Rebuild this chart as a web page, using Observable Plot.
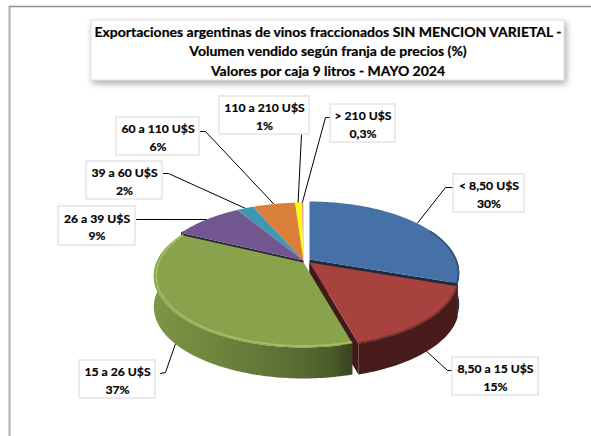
<!DOCTYPE html>
<html><head><meta charset="utf-8">
<style>html,body{margin:0;padding:0;background:#fff}svg{display:block}</style>
<script src="https://cdn.jsdelivr.net/npm/d3@7"></script>
<script src="https://cdn.jsdelivr.net/npm/@observablehq/plot@0.6"></script>
</head><body><div id="chart"></div>
<script>
const titleLines = ["Exportaciones argentinas de vinos fraccionados SIN MENCION VARIETAL -","Volumen vendido según franja de precios (%)","Valores por caja 9 litros - MAYO 2024"];
const categories = ["< 8,50 U$S","8,50 a 15 U$S","15 a 26 U$S","26 a 39 U$S","39 a 60 U$S","60 a 110 U$S","110 a 210 U$S","> 210 U$S"];
const shares = [30.3,15.4,36.6,9.1,2.2,5.5,0.8,0.3];
const shareLabels = ["30%","15%","37%","9%","2%","6%","1%","0,3%"];
const colors = ["#4571a7","#a8423f","#88a34c","#71568f","#4098b0","#d97f3b","#ffff00","#e6a6a4"];

// layout
const W = 591, H = 436, R = 147, RY = 68.9, K = 0.189, DEPTH = 31;
const centers = [[309,259],[309,262],[303,262],[303,260],[303,260],[303,260],[303,260],[303,260]];
const boxes = [[453,524,174,212],[452,538,357,395],[79,155,360,398],[58,135,206,245],[86,162,161,199],[116,199,117,155],[219,309,96,134],[330,395,104,142]];
const elbows = [[[452,187],[445,187]],[[452,370],[447,370]],[[160,373],[165,372]],[[136,219]],[[163,173],[168,173]],[[200,131],[205,131]],[[301,134]],[[330,117],[325,117]]];
const paintOrder = [7,6,5,4,3,0,1,2];

const pieArcs = d3.pie().sort(null).value(d => d)(shares);
function project(theta, i, r = 1, z = 0) {
  const u = Math.sin(theta) * r, v = -Math.cos(theta) * r, s = 1 / (1 - K * v);
  return {x: centers[i][0] + R * u * s, y: centers[i][1] + RY * v * s + z};
}
const step = Math.PI / 180;
function angles(a0, a1) {
  const n = Math.max(1, Math.ceil((a1 - a0) / step)), out = [];
  for (let j = 0; j <= n; j++) out.push(a0 + (a1 - a0) * j / n);
  return out;
}
function sideFactor(u) {
  if (u >= 0.25) return 0.42;
  return 0.5 + 0.42 * Math.pow(Math.min(1, (0.25 - u) / 1.25), 0.7);
}
function scaled(c, f) { const q = d3.rgb(c); return d3.rgb(q.r * f, q.g * f, q.b * f).formatHex(); }

const polys = [];
let pid = 0;
function addPoly(points, fill) { const id = pid++; for (const p of points) polys.push({id, x: p.x, y: p.y, fill}); }
for (const i of paintOrder) {
  const {startAngle: a0, endAngle: a1} = pieArcs[i], col = colors[i];
  // the cut wall that faces the viewer only
  const wallAngle = i === 1 ? a1 : i === 0 ? a1 : i === 3 ? a0 : null;
  if (wallAngle !== null) addPoly([project(wallAngle,i,0),project(wallAngle,i,1),project(wallAngle,i,1,DEPTH),project(wallAngle,i,0,DEPTH)], scaled(col,0.38));
  const as = angles(a0, a1);
  const front = as.filter(a => Math.cos(a) <= 0.25);
  if (front.length > 1) addPoly([...front.map(a => project(a,i)), ...front.slice().reverse().map(a => project(a,i,1,DEPTH))], `url(#side${i})`);
  addPoly([project(a0,i,0),...as.map(a => project(a,i))], col);
}
// bevel along the front rim of the top faces: lit on the green slice, shaded elsewhere
const rims = [];
pieArcs.forEach((arc,i) => {
  const lit = i === 2;
  for (const a of angles(arc.startAngle, arc.endAngle)) {
    if (!lit && Math.cos(a) > 0.45) continue;
    const p = project(a,i,lit ? 0.985 : 0.995);
    rims.push({id:i, x:p.x, y:p.y, stroke: lit ? "#a6c064" : scaled(colors[i],0.72)});
  }
});
// leaders: label -> elbow -> rim at the slice's mid angle
const leaders = [];
pieArcs.forEach((arc,i) => {
  const m = (arc.startAngle + arc.endAngle) / 2;
  const pts = [...elbows[i].map(([x,y]) => ({x,y})), project(m,i,1,Math.cos(m) < 0 ? DEPTH : 0)];
  pts.forEach(p => leaders.push({id:i, ...p}));
});
const labelRows = categories.map((c,i) => ({text:c+"\n"+shareLabels[i], x1:boxes[i][0], x2:boxes[i][1], y1:boxes[i][2], y2:boxes[i][3], x:(boxes[i][0]+boxes[i][1])/2, y:(boxes[i][2]+boxes[i][3])/2}));
const font = {fontFamily:"Lato", fontWeight:"bold", fill:"#000", stroke:"#000", strokeWidth:0.2};

// side shading gradients, horizontal across each slice's centre
function sideGradients() {
  const ns = "http://www.w3.org/2000/svg";
  const defs = document.createElementNS(ns, "defs");
  colors.forEach((col,i) => {
    const g = document.createElementNS(ns, "linearGradient");
    g.setAttribute("id", `side${i}`);
    g.setAttribute("gradientUnits", "userSpaceOnUse");
    g.setAttribute("x1", centers[i][0] - R * 1.05);
    g.setAttribute("x2", centers[i][0] + R * 1.05);
    g.setAttribute("y1", 0); g.setAttribute("y2", 0);
    d3.range(0, 21).forEach(k => {
      const t = k / 20, stop = document.createElementNS(ns, "stop");
      stop.setAttribute("offset", t);
      stop.setAttribute("stop-color", scaled(col, sideFactor(-1 + 2 * t)));
      g.appendChild(stop);
    });
    defs.appendChild(g);
  });
  return defs;
}

const plot = Plot.plot({
  width:W, height:H, margin:0,
  x:{domain:[0,W], range:[0,W], axis:null},
  y:{domain:[0,H], range:[0,H], axis:null},
  color:{type:"identity"},
  style:{background:"#fff"},
  marks:[
    sideGradients,
    Plot.ruleX([9],{y1:6,y2:H,stroke:"#b0b0b0",strokeWidth:2}),
    Plot.ruleY([6],{x1:9,x2:W,stroke:"#8f8f8f",strokeWidth:1.5}),
    Plot.rect([0],{x1:91,x2:564,y1:20,y2:80,fill:"#fff",stroke:"#e4e4e4",strokeWidth:1.2,imageFilter:"drop-shadow(2px 3px 3px #00000055)"}),
    Plot.text(titleLines,{x:327.5,y:(d,i)=>[32,51.5,71][i],text:d=>d,fontSize:14,...font}),
    Plot.line(leaders,{x:"x",y:"y",z:"id",stroke:"#000",strokeWidth:1}),
    Plot.line(polys,{x:"x",y:"y",z:"id",fill:"fill",stroke:"none",curve:"linear-closed"}),
    Plot.line(rims,{x:"x",y:"y",z:"id",stroke:"stroke",strokeWidth:1.6,imageFilter:"blur(0.7px)"}),
    Plot.rect(labelRows,{x1:"x1",x2:"x2",y1:"y1",y2:"y2",fill:"#fff",stroke:"#dedede",strokeWidth:1.2}),
    Plot.text(labelRows,{x:"x",y:"y",text:"text",fontSize:12.2,lineHeight:1.4,...font})
  ]
});
document.getElementById("chart").append(plot);
</script></body></html>
